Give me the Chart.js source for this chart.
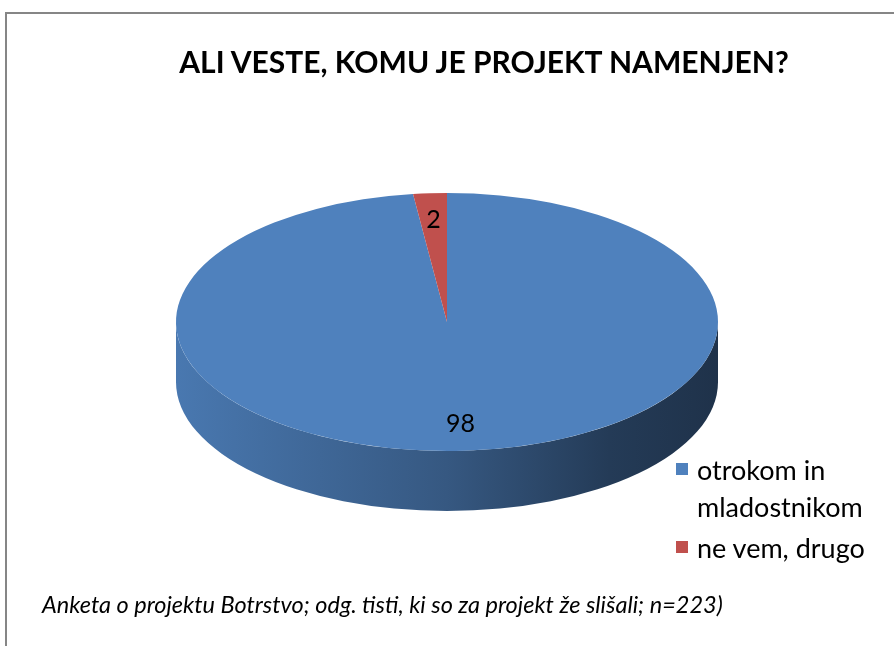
<!DOCTYPE html>
<html>
<head>
<meta charset="utf-8">
<script src="https://cdn.jsdelivr.net/npm/chart.js@4.4.1/dist/chart.umd.min.js"></script>
<style>
    body { margin: 0; background: #fff; font-family: Lato, 'Open Sans', sans-serif; color: #000; }
    #wrap { position: relative; width: 894px; height: 646px; overflow: hidden; }
    #frame { position: absolute; left: 5px; top: 12px; width: 1000px; height: 1000px;
             border-left: 2px solid #868686; border-top: 2px solid #868686; }
    #pie { position: absolute; left: 0; top: 0; }
    #title { position: absolute; left: 0; width: 968px; top: 43px; text-align: center;
             font-weight: bold; font-size: 30px; white-space: nowrap; }
    #legend { position: absolute; left: 697px; top: 451px; width: 195px; }
    .item { position: relative; font-size: 27px; line-height: 37px; }
    .item + .item { margin-top: 4px; }
    .swatch { position: absolute; left: -21px; top: 12px; width: 12px; height: 12px; }
    #note { position: absolute; left: 42px; top: 590px; font-style: italic; font-size: 23.5px;
            line-height: 28px; white-space: nowrap; }
</style>
</head>
<body>
<div id="wrap">
    <div id="frame"></div>
    <canvas id="pie" width="894" height="646"></canvas>
    <div id="title">ALI VESTE, KOMU JE PROJEKT NAMENJEN?</div>
    <div id="legend"></div>
    <div id="note">Anketa o projektu Botrstvo; odg. tisti, ki so za projekt že slišali; n=223)</div>
</div>
<script>
// Chart data
const categories = ['otrokom in mladostnikom', 'ne vem, drugo'];
const shares = [98, 2];
const sliceColors = ['#4F81BD', '#C0504D'];

// 3D look: vertical squash of the top face and the height of the side wall
const tilt = 0.476;
const depth = 60;

// Darken a hex colour by a factor
function shade(hex, f) {
    const n = parseInt(hex.slice(1), 16);
    const r = Math.round(((n >> 16) & 255) * f);
    const g = Math.round(((n >> 8) & 255) * f);
    const b = Math.round((n & 255) * f);
    return `rgb(${r},${g},${b})`;
}

// Draws the side wall, then squashes the pie so it looks tilted
const pie3d = {
    id: 'pie3d',
    beforeDatasetsDraw(chart) {
        const ctx = chart.ctx;
        const arcs = chart.getDatasetMeta(0).data;
        if (!arcs.length) return;
        const cx = arcs[0].x, cy = arcs[0].y, R = arcs[0].outerRadius;
        const ry = R * tilt;

        arcs.forEach((arc, i) => {
            const base = sliceColors[i];
            const grad = ctx.createLinearGradient(cx - R, 0, cx + R, 0);
            grad.addColorStop(0, shade(base, 0.93));
            grad.addColorStop(0.5, shade(base, 0.68));
            grad.addColorStop(0.8, shade(base, 0.46));
            grad.addColorStop(1, shade(base, 0.39));

            // only the front half (0..PI) of the wall is visible
            [-2 * Math.PI, 0, 2 * Math.PI].forEach(shift => {
                const a = Math.max(arc.startAngle, shift);
                const b = Math.min(arc.endAngle, shift + Math.PI);
                if (b <= a) return;
                ctx.beginPath();
                ctx.ellipse(cx, cy, R, ry, 0, a, b);
                ctx.ellipse(cx, cy + depth, R, ry, 0, b, a, true);
                ctx.closePath();
                ctx.fillStyle = grad;
                ctx.fill();
            });
        });

        ctx.save();
        ctx.translate(cx, cy);
        ctx.scale(1, tilt);
        ctx.translate(-cx, -cy);
    },
    afterDatasetsDraw(chart) {
        chart.ctx.restore();
    }
};

// Value labels on the top face
const sliceLabels = {
    id: 'sliceLabels',
    afterDraw(chart) {
        const ctx = chart.ctx;
        const meta = chart.getDatasetMeta(0);
        ctx.save();
        ctx.font = '25px Lato, sans-serif';
        ctx.fillStyle = '#000';
        ctx.textAlign = 'center';
        ctx.textBaseline = 'middle';
        meta.data.forEach((arc, i) => {
            const mid = (arc.startAngle + arc.endAngle) / 2;
            const r = arc.outerRadius * 0.79;
            const x = arc.x + Math.cos(mid) * r;
            const y = arc.y + Math.sin(mid) * r * tilt;
            ctx.fillText(String(shares[i]), x, y);
        });
        ctx.restore();
    }
};

function initChart() {
    const ctx = document.getElementById('pie');
    new Chart(ctx.getContext('2d'), {
        type: 'pie',
        data: {
            labels: categories,
            datasets: [{
                data: shares,
                backgroundColor: sliceColors,
                borderWidth: 0,
                hoverOffset: 0,
                clip: false
            }]
        },
        options: {
            responsive: false,
            animation: false,
            layout: { padding: { left: 176, right: 176, top: 51, bottom: 53 } },
            plugins: {
                legend: { display: false },
                tooltip: { enabled: false }
            }
        },
        plugins: [pie3d, sliceLabels]
    });
}

// Legend built from the same arrays
function initLegend() {
    const box = document.getElementById('legend');
    box.innerHTML = categories.map((name, i) => `
        <div class="item">
            <span class="swatch" style="background:${sliceColors[i]}"></span>${name}
        </div>`).join('');
}

initChart();
initLegend();
</script>
</body>
</html>
